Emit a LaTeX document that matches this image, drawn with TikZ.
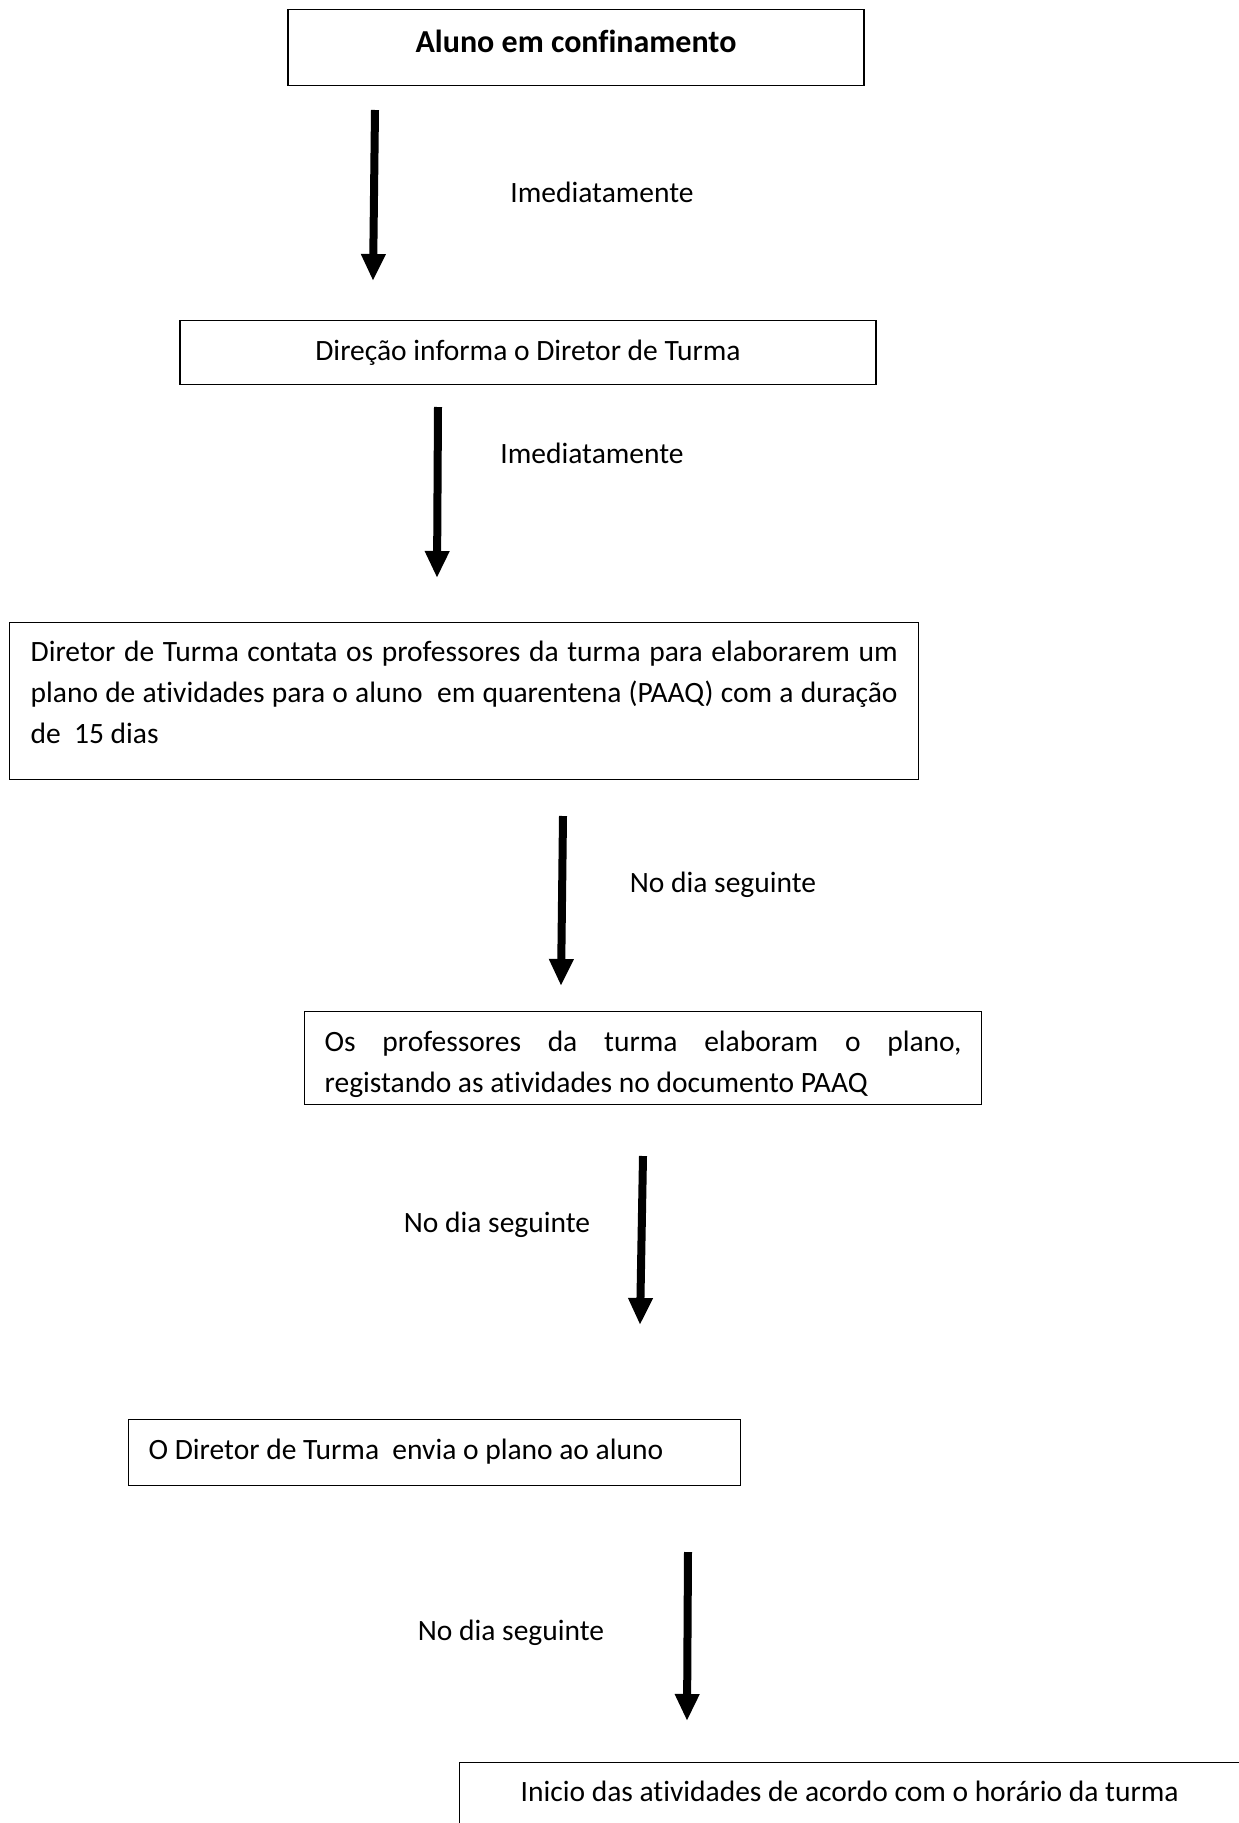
\documentclass[tikz,border=0pt]{standalone}
\usepackage{fontspec}
\setmainfont{Carlito}[Ligatures=NoCommon]
\usetikzlibrary{arrows.meta}

\tikzset{
  flowbox/.style={draw=black, line width=1.3pt, rectangle, inner ysep=0pt, font=\fontsize{29.5}{41}\selectfont},
  flowarrow/.style={line width=8pt, -{Triangle[width=23pt, length=27pt]}},
  steplabel/.style={inner sep=0pt, font=\fontsize{29.5}{35}\selectfont}
}

\begin{document}
\begin{tikzpicture}[x=1pt, y=-1pt]
  \useasboundingbox (0,0) rectangle (1239,1823);
  \clip (0,0) rectangle (1239,1823);

  % boxes
  \node[flowbox, anchor=north, minimum width=576pt, inner xsep=0pt, text height=43pt, text depth=33pt, font=\fontsize{32}{41}\selectfont\bfseries] (aluno) at (576,9) {Aluno em confinamento};
  \node[flowbox, anchor=north, minimum width=696pt, inner xsep=0pt, text height=40pt, text depth=24pt] (direcao) at (528,320) {Direção informa o Diretor de Turma};
  \node[flowbox, anchor=north west, text width=867pt, inner xsep=21pt, align=justify, text height=39pt, text depth=118pt] (contacto) at (9,622) {Diretor de Turma contata os professores da turma para elaborarem um\linebreak plano de atividades para o aluno~ em quarentena (PAAQ) com a duração\linebreak de~ 15 dias};
  \node[flowbox, anchor=north west, text width=637pt, inner xsep=20pt, align=justify, text height=40pt, text depth=53pt] (plano) at (304,1011) {Os professores da turma elaboram o plano,\linebreak registando as atividades no documento PAAQ};
  \node[flowbox, anchor=north west, text width=572pt, inner xsep=20pt, align=justify, text height=40pt, text depth=26pt] (envio) at (128,1419) {O Diretor de Turma~ envia o plano ao aluno};
  \node[flowbox, anchor=north west, text width=800pt, inner xsep=61pt, align=justify, text height=39pt, text depth=80pt] (inicio) at (459,1762) {Inicio das atividades de acordo com o horário da turma};

  % arrows
  \coordinate (a1s) at (375,110);  \coordinate (a1e) at (373,281);
  \coordinate (a2s) at (438,407);  \coordinate (a2e) at (437,578);
  \coordinate (a3s) at (563,816);  \coordinate (a3e) at (561,986);
  \coordinate (a4s) at (643,1156); \coordinate (a4e) at (640,1325);
  \coordinate (a5s) at (688,1552); \coordinate (a5e) at (687,1721);
  \foreach \i in {1,...,5}
    \draw[flowarrow] (a\i s) -- (a\i e);

  % labels
  \node[steplabel] (lbl1) at (602,192) {Imediatamente};
  \node[steplabel] (lbl2) at (592,453) {Imediatamente};
  \node[steplabel] (lbl3) at (723,885) {No dia seguinte};
  \node[steplabel] (lbl4) at (497,1225) {No dia seguinte};
  \node[steplabel] (lbl5) at (511,1633) {No dia seguinte};
\end{tikzpicture}
\end{document}
